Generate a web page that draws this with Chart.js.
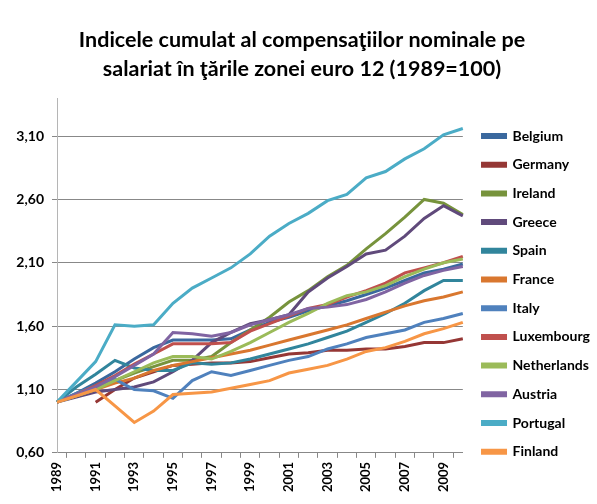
<!DOCTYPE html>
<html>
<head>
<meta charset="utf-8">
<script src="https://cdn.jsdelivr.net/npm/chart.js@4.4.0/dist/chart.umd.min.js"></script>
<style>
    body { margin: 0; background: #fff; }
    #wrap { width: 597px; height: 504px; }
</style>
</head>
<body>
<div id="wrap"><canvas id="wageChart" width="597" height="504"></canvas></div>
<script>
const years = ['1989', '1990', '1991', '1992', '1993', '1994', '1995', '1996', '1997', '1998', '1999',
    '2000', '2001', '2002', '2003', '2004', '2005', '2006', '2007', '2008', '2009', '2010'];

const belgium     = [1.00, 1.07, 1.15, 1.24, 1.34, 1.43, 1.49, 1.49, 1.49, 1.50, 1.57, 1.63, 1.67, 1.72, 1.76, 1.80, 1.85, 1.90, 1.96, 2.02, 2.05, 2.09];
const germany     = [null, null, 1.00, 1.10, 1.19, 1.24, 1.29, 1.30, 1.31, 1.31, 1.32, 1.35, 1.38, 1.39, 1.41, 1.41, 1.42, 1.42, 1.44, 1.47, 1.47, 1.50];
const ireland     = [1.00, 1.06, 1.11, 1.17, 1.23, 1.28, 1.33, 1.33, 1.36, 1.47, 1.57, 1.67, 1.79, 1.88, 1.99, 2.08, 2.21, 2.33, 2.46, 2.60, 2.57, 2.48];
const greece      = [1.00, 1.04, 1.08, 1.10, 1.12, 1.16, 1.24, 1.33, 1.47, 1.55, 1.62, 1.65, 1.69, 1.87, 1.98, 2.07, 2.17, 2.20, 2.31, 2.45, 2.55, 2.47];
const spain       = [1.00, 1.12, 1.22, 1.33, 1.27, 1.25, 1.25, 1.31, 1.30, 1.31, 1.34, 1.38, 1.42, 1.46, 1.51, 1.56, 1.63, 1.70, 1.78, 1.88, 1.96, 1.96];
const france      = [1.00, 1.05, 1.10, 1.15, 1.19, 1.25, 1.29, 1.32, 1.35, 1.38, 1.41, 1.45, 1.49, 1.53, 1.57, 1.61, 1.66, 1.71, 1.76, 1.80, 1.83, 1.87];
const italy       = [1.00, 1.07, 1.13, 1.18, 1.10, 1.09, 1.03, 1.17, 1.24, 1.21, 1.25, 1.29, 1.33, 1.36, 1.42, 1.46, 1.51, 1.54, 1.57, 1.63, 1.66, 1.70];
const luxembourg  = [1.00, 1.06, 1.13, 1.21, 1.30, 1.38, 1.46, 1.46, 1.46, 1.47, 1.56, 1.62, 1.68, 1.74, 1.77, 1.83, 1.88, 1.94, 2.02, 2.06, 2.10, 2.15];
const netherlands = [1.00, 1.05, 1.10, 1.17, 1.24, 1.31, 1.36, 1.36, 1.34, 1.40, 1.47, 1.55, 1.63, 1.70, 1.78, 1.84, 1.87, 1.92, 1.99, 2.05, 2.10, 2.13];
const austria     = [1.00, 1.06, 1.12, 1.20, 1.29, 1.38, 1.55, 1.54, 1.52, 1.55, 1.61, 1.65, 1.69, 1.74, 1.75, 1.77, 1.81, 1.87, 1.94, 2.00, 2.04, 2.07];
const portugal    = [1.00, 1.16, 1.32, 1.61, 1.60, 1.61, 1.78, 1.90, 1.98, 2.06, 2.17, 2.31, 2.41, 2.49, 2.59, 2.64, 2.77, 2.82, 2.92, 3.00, 3.11, 3.16];
const finland     = [1.00, 1.05, 1.10, 0.97, 0.84, 0.93, 1.06, 1.07, 1.08, 1.11, 1.14, 1.17, 1.23, 1.26, 1.29, 1.34, 1.40, 1.43, 1.48, 1.54, 1.58, 1.63];

const countries = ['Belgium', 'Germany', 'Ireland', 'Greece', 'Spain', 'France',
    'Italy', 'Luxembourg', 'Netherlands', 'Austria', 'Portugal', 'Finland'];
const seriesValues = [belgium, germany, ireland, greece, spain, france,
    italy, luxembourg, netherlands, austria, portugal, finland];
const colors = ['#3A689E', '#953735', '#77933C', '#604A7B', '#31859C', '#D9772F',
    '#4F81BD', '#C0504D', '#9BBB59', '#8064A2', '#4BACC6', '#F79646'];

const yTicks = [0.6, 1.1, 1.6, 2.1, 2.6, 3.1];
const titleLines = ['Indicele cumulat al compensaţiilor nominale pe',
    'salariat în ţările zonei euro 12 (1989=100)'];

Chart.defaults.font.family = 'Lato';
Chart.defaults.color = '#000';

// push the legend a bit away from the plot, like the Excel original
const legendGap = {
    id: 'legendGap',
    afterLayout(chart) {
        chart.legend.left += 5;
        chart.legend.right += 5;
    }
};

document.addEventListener('DOMContentLoaded', function() {
    const ctx = document.getElementById('wageChart').getContext('2d');

    const datasets = countries.map((name, i) => ({
        label: name,
        data: seriesValues[i],
        borderColor: colors[i],
        backgroundColor: colors[i],
        borderWidth: 3,
        pointRadius: 0,
        tension: 0,
        order: -i   // later series on top
    }));

    new Chart(ctx, {
        type: 'line',
        data: { labels: years, datasets: datasets },
        plugins: [legendGap],
        options: {
            responsive: false,
            animation: false,
            layout: { padding: { left: 9, right: 2, top: 0, bottom: 8 } },
            scales: {
                x: {
                    grid: { drawOnChartArea: false, drawTicks: true, tickLength: 5, offset: true, color: '#888' },
                    border: { color: '#888' },
                    ticks: {
                        autoSkip: false,
                        maxRotation: 90,
                        minRotation: 90,
                        padding: 4,
                        font: { size: 13, weight: 'bold' },
                        callback: (v, i) => i % 2 === 0 ? years[i] : ''
                    }
                },
                y: {
                    min: 0.6,
                    max: 3.4,
                    afterBuildTicks: axis => { axis.ticks = yTicks.map(v => ({ value: v })); },
                    afterFit: axis => { axis.width = 48; },
                    grid: { color: '#888', tickLength: 5 },
                    border: { color: '#b5b5b5' },
                    ticks: {
                        padding: 8,
                        font: { size: 14, weight: 'bold' },
                        callback: v => v.toFixed(2).replace('.', ',')
                    }
                }
            },
            plugins: {
                title: {
                    display: true,
                    text: titleLines,
                    color: '#000',
                    font: { size: 21.5, weight: 'bold', lineHeight: 1.35 },
                    padding: { top: 26, bottom: 14 }
                },
                legend: {
                    position: 'right',
                    align: 'start',
                    title: { display: true, text: ' ', font: { size: 10 }, padding: { top: 102.3, bottom: 0 } },
                    labels: {
                        boxWidth: 23,
                        boxHeight: 3,
                        padding: 14.7,
                        font: { size: 14, weight: 'bold' },
                        color: '#000',
                        sort: (a, b) => a.datasetIndex - b.datasetIndex
                    }
                },
                tooltip: { enabled: false }
            }
        }
    });
});
</script>
</body>
</html>
